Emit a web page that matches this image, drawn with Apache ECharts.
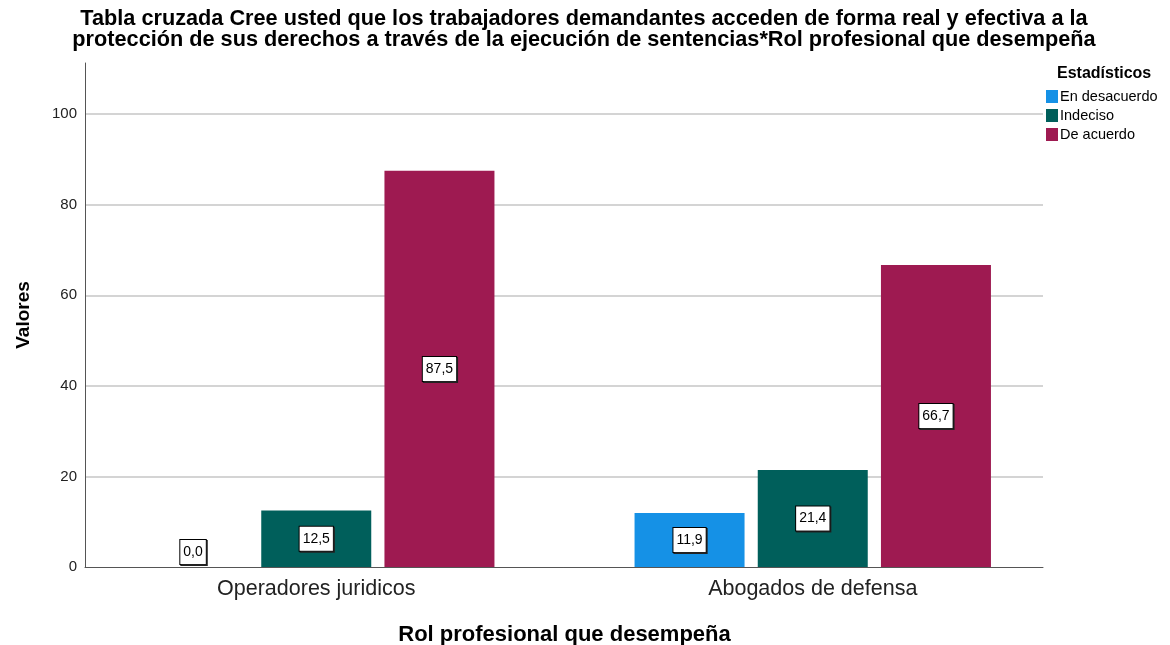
<!DOCTYPE html>
<html>
<head>
<meta charset="utf-8">
<script src="https://cdn.jsdelivr.net/npm/echarts@6/dist/echarts.min.js"></script>
<style>
  html, body { margin: 0; padding: 0; background: #fff; }
  #chart { width: 1170px; height: 645px; }
</style>
</head>
<body>
<div id="chart"></div>
<script>
const categories = ['Operadores juridicos', 'Abogados de defensa'];
const seriesNames = ['En desacuerdo', 'Indeciso', 'De acuerdo'];
const enDesacuerdo = [0.0, 11.9];
const indeciso = [12.5, 21.4];
const deAcuerdo = [87.5, 66.7];
const yTicks = [0, 20, 40, 60, 80, 100];
const colors = ['#1591e6', '#005f5b', '#9e1a51'];

const font = '"Liberation Sans", Arial, sans-serif';
const fmt = (v) => v.toFixed(1).replace('.', ',');

const labelStyle = {
  show: true,
  position: 'inside',
  formatter: (p) => fmt(p.value),
  color: '#000',
  fontFamily: font,
  fontSize: 14,
  lineHeight: 15,
  backgroundColor: '#fff',
  borderColor: '#000',
  borderWidth: 1,
  padding: [5, 3, 4, 3],
  shadowColor: '#222',
  shadowOffsetX: 1,
  shadowOffsetY: 1,
  shadowBlur: 0
};

const makeData = (arr) => arr.map((v) =>
  v === 0 ? { value: v, label: { position: 'top', distance: 3 } } : v
);

const makeSeries = (name, arr, i) => ({
  name: name,
  type: 'bar',
  xAxisIndex: 1,
  yAxisIndex: 1,
  data: makeData(arr),
  barWidth: 110,
  barGap: '12%',
  itemStyle: { color: colors[i] },
  label: labelStyle
});

const chart = echarts.init(document.getElementById('chart'));
const yMax = 111.3;

const option = {
  animation: false,
  color: colors,
  title: [
    {
      text: 'Tabla cruzada Cree usted que los trabajadores demandantes acceden de forma real y efectiva a la\nprotección de sus derechos a través de la ejecución de sentencias*Rol profesional que desempeña',
      left: 584,
      textAlign: 'center',
      top: 9,
      padding: 0,
      textStyle: {
        fontFamily: font,
        fontWeight: 'bold',
        fontSize: 21.7,
        lineHeight: 21,
        color: '#000'
      }
    },
    {
      text: 'Estadísticos',
      left: 1057,
      top: 66,
      padding: 0,
      textStyle: { fontFamily: font, fontWeight: 'bold', fontSize: 16, color: '#000' }
    }
  ],
  legend: {
    orient: 'vertical',
    left: 1046,
    top: 89,
    padding: 0,
    itemWidth: 12,
    itemHeight: 13,
    itemGap: 4,
    icon: 'rect',
    data: seriesNames,
    textStyle: { fontFamily: font, fontSize: 14.5, lineHeight: 13, color: '#000', padding: [0, 0, 0, -3] }
  },
  grid: [
    { left: 85, right: 127, top: 63, bottom: 78, outerBoundsMode: 'none' },
    { left: 68, right: 109, top: 63, bottom: 78, outerBoundsMode: 'none' }
  ],
  xAxis: [
    {
      gridIndex: 0,
      type: 'category',
      data: categories,
      axisLine: { lineStyle: { color: '#555', width: 1 } },
      axisTick: { show: false },
      axisLabel: { show: false }
    },
    {
      gridIndex: 1,
      type: 'category',
      data: categories,
      axisLine: { show: false },
      axisTick: { show: false },
      axisLabel: { fontFamily: font, fontSize: 21.5, color: '#222', margin: 11 },
      name: 'Rol profesional que desempeña',
      nameLocation: 'middle',
      nameGap: 57,
      nameTextStyle: { fontFamily: font, fontSize: 22, fontWeight: 'bold', color: '#000' }
    }
  ],
  yAxis: [
    {
      gridIndex: 0,
      type: 'value',
      min: 0,
      max: yMax,
      interval: 20,
      axisLine: { show: true, lineStyle: { color: '#555', width: 1 } },
      axisTick: { show: false },
      axisLabel: {
        fontFamily: font,
        fontSize: 15,
        color: '#222',
        margin: 8,
        showMaxLabel: false,
        formatter: (v) => (yTicks.indexOf(v) >= 0 ? String(v) : '')
      },
      splitLine: {
        show: true,
        showMinLine: false,
        showMaxLine: false,
        lineStyle: { color: '#d4d4d4', width: 2 }
      },
      name: 'Valores',
      nameLocation: 'middle',
      nameGap: 52,
      nameTextStyle: { fontFamily: font, fontSize: 19, fontWeight: 'bold', color: '#000' }
    },
    {
      gridIndex: 1,
      type: 'value',
      min: 0,
      max: yMax,
      show: false,
      splitLine: { show: false }
    }
  ],
  series: [
    makeSeries(seriesNames[0], enDesacuerdo, 0),
    makeSeries(seriesNames[1], indeciso, 1),
    makeSeries(seriesNames[2], deAcuerdo, 2)
  ]
};

chart.setOption(option);
</script>
</body>
</html>
